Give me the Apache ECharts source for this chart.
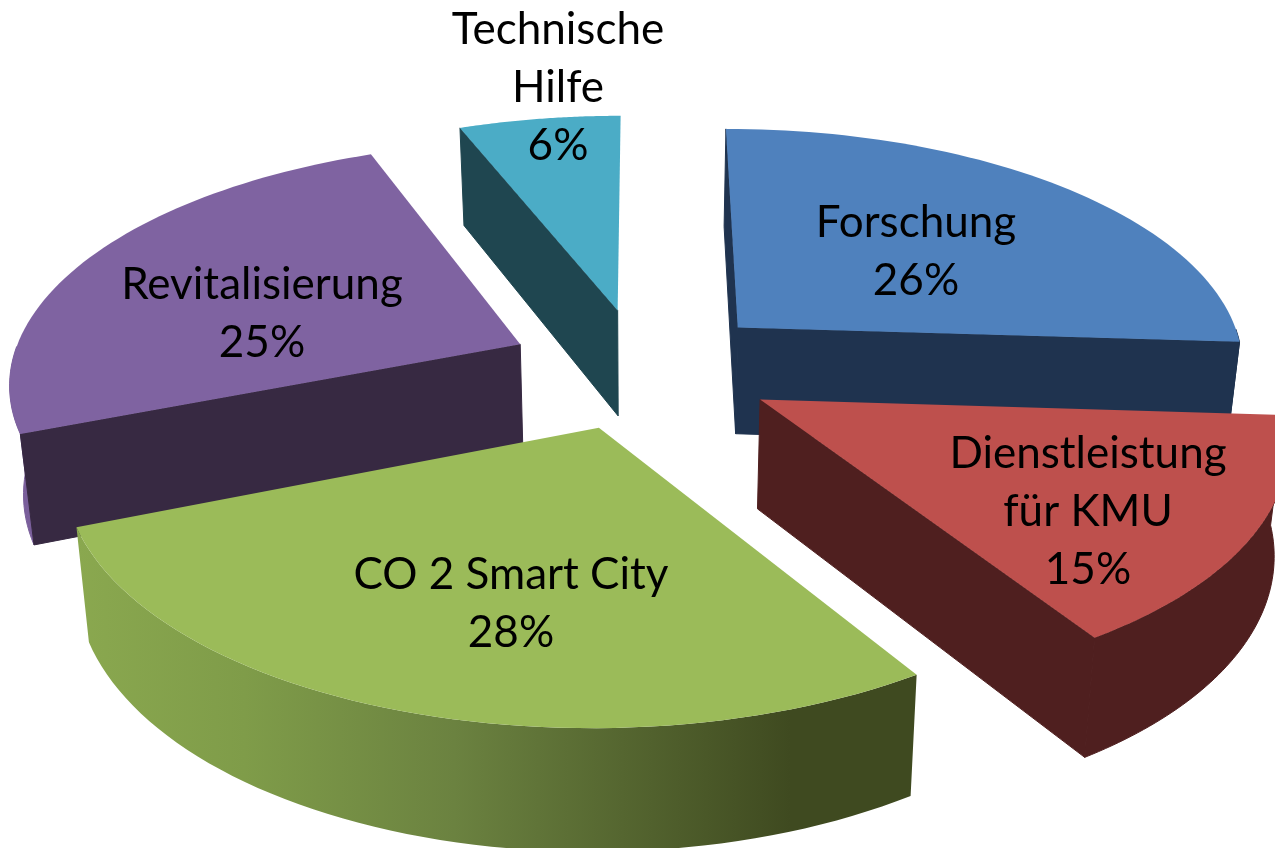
<!DOCTYPE html>
<html>
<head>
<meta charset="utf-8">
<title>Exploded pie</title>
<script src="https://cdn.jsdelivr.net/npm/echarts@6/dist/echarts.min.js"></script>
<style>
html,body{margin:0;padding:0;background:#fff;}
#chart{width:1275px;height:848px;}
</style>
</head>
<body>
<div id="chart"></div>
<script>
// values, clockwise from 12 o'clock
var categories = ['Forschung', 'Dienstleistung\nfür KMU', 'CO 2 Smart City', 'Revitalisierung', 'Technische\nHilfe'];
var shares = [26, 15, 28, 25, 6];

// look of the slices
var topColors = ['#4f81bd', '#be504d', '#9bbb59', '#7f63a1', '#4bacc6'];
var wallColors = ['#1f334f', '#4f1f1f', '#3f4a20', '#372942', '#1f4650'];
var drawRank = [1, 3, 4, 2, 0]; // back to front
var labelCenters = [[916, 252], [1088, 512], [511, 604], [262, 314], [558, 88]];

// fake camera for the tilted pie
var cam = {cx: 642, cy: 368, rx: 510, ry: 238, persp: 0.144, explodeU: 0.264, explodeV: 0.255, depth: 108, shrink: 0.022};

function project(u, v, down) {
	var s = 1 / (1 - cam.persp * v);
	var x = cam.cx + cam.rx * u * s;
	var y = cam.cy + cam.ry * v * s;
	if (down) {
		x = cam.cx + (x - cam.cx) * (1 - cam.shrink);
		y = cam.cy + (y - cam.cy) * (1 - cam.shrink) + cam.depth * s;
	}
	return [x, y];
}

function wallFill(i) {
	if (i == 2) {//only the front slice shows the shading of the rim
		return new echarts.graphic.LinearGradient(0, 0, 1, 0, [
			{offset: 0, color: '#8aa84f'},
			{offset: 0.2, color: '#7f9c49'},
			{offset: 0.45, color: '#6b8240'},
			{offset: 0.85, color: '#3f4a20'},
			{offset: 1, color: '#3f4a20'}
		]);
	}
	if (i == 3) return '#7a5f9b';
	return wallColors[i];
}

var total = 0;
for (var k = 0; k < shares.length; k++) total += shares[k];
var sliceData = [];
var running = 0;
for (var k = 0; k < shares.length; k++) {
	sliceData.push([shares[k], running, k]);
	running += shares[k];
}

function renderSlice(params, api) {
	var value = api.value(0);
	var before = api.value(1);
	var i = api.value(2);
	var a0 = before / total * Math.PI * 2;
	var a1 = (before + value) / total * Math.PI * 2;
	var mid = (a0 + a1) / 2;
	var ex = cam.explodeU * Math.sin(mid);
	var ey = -cam.explodeV * Math.cos(mid);

	var rimTop = [], frontTop = [], frontLow = [];
	var steps = 60;
	for (var n = 0; n <= steps; n++) {
		var a = a0 + (a1 - a0) * n / steps;
		var u = ex + Math.sin(a);
		var v = ey - Math.cos(a);
		rimTop.push(project(u, v, false));
		if (Math.cos(a) < 0) {//back of the rim is hidden
			frontTop.push(project(u, v, false));
			frontLow.push(project(u, v, true));
		}
	}
	var apexTop = project(ex, ey, false);
	var apexLow = project(ex, ey, true);
	var base = drawRank[i] * 10;
	var parts = [];

	// rim
	if (frontTop.length > 1) {
		var rimStyle = {fill: wallFill(i)};
		if (typeof rimStyle.fill == 'string') {
			rimStyle.stroke = rimStyle.fill;
			rimStyle.lineWidth = 1;
		}
		parts.push({type: 'polygon', z2: base + 1, shape: {points: frontTop.concat(frontLow.slice().reverse())},
			style: rimStyle});
	}
	// the two cut faces, only when they look at the viewer
	if (-Math.sin(a0) > -0.01) {
		parts.push({type: 'polygon', z2: base + 2,
			shape: {points: [apexTop, rimTop[0], project(ex + Math.sin(a0), ey - Math.cos(a0), true), apexLow]},
			style: {fill: wallColors[i], stroke: wallColors[i], lineWidth: 1}});
	}
	if (Math.sin(a1) > 0.01) {
		parts.push({type: 'polygon', z2: base + 2,
			shape: {points: [apexTop, rimTop[steps], project(ex + Math.sin(a1), ey - Math.cos(a1), true), apexLow]},
			style: {fill: wallColors[i], stroke: wallColors[i], lineWidth: 1}});
	}
	// top
	parts.push({type: 'polygon', z2: base + 3, shape: {points: [apexTop].concat(rimTop)},
		style: {fill: topColors[i]}});
	// label
	parts.push({type: 'text', z2: 100, x: labelCenters[i][0], y: labelCenters[i][1],
		style: {text: categories[i] + '\n' + value + '%', fill: '#000', font: '44px Lato', lineHeight: 58,
			align: 'center', verticalAlign: 'middle'}});
	return {type: 'group', children: parts};
}

var myChart = echarts.init(document.getElementById('chart'), null, {renderer: 'canvas'});
myChart.setOption({
	backgroundColor: '#ffffff',
	animation: false,
	series: [{
		type: 'custom',
		coordinateSystem: 'none',
		silent: true,
		renderItem: renderSlice,
		data: sliceData
	}]
});
</script>
</body>
</html>
